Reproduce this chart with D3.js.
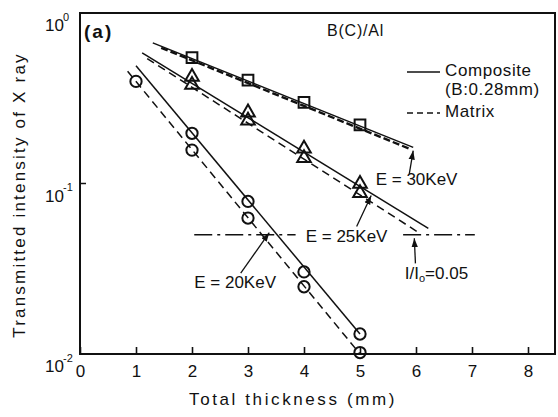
<!DOCTYPE html>
<html>
<head>
<meta charset="utf-8">
<script src="https://cdn.jsdelivr.net/npm/d3@7/dist/d3.min.js"></script>
<style>
  body { margin: 0; background: #fff; }
  svg text { font-family: "Liberation Sans", Arial, sans-serif; fill: #111; }
</style>
</head>
<body>
<div id="chart"></div>
<script>
const xTicks = [0, 1, 2, 3, 4, 5, 6, 7, 8]
const yTicks = [1, 0.1, 0.01]
const yTickExp = ['0', '-1', '-2']

const circleCompX = [2, 3, 4, 5]
const circleComp = [0.197, 0.0785, 0.0303, 0.0131]
const circleMatX = [1, 2, 3, 4, 5]
const circleMat = [0.397, 0.157, 0.0627, 0.0248, 0.0102]

const triX = [2, 3, 4, 5]
const triComp = [0.422, 0.261, 0.160, 0.0996]
const triMat = [0.379, 0.234, 0.141, 0.0878]

const squareX = [2, 3, 4, 5]
const squareVals = [0.548, 0.404, 0.299, 0.221]

// fitted lines [x, I/I0]
const fit20Comp = [[1.0, 0.49], [5.0, 0.0131]]
const fit20Mat = [[0.85, 0.455], [5.0, 0.0100]]
const fit25Comp = [[1.11, 0.583], [6.22, 0.0546]]
const fit25Mat = [[1.2, 0.54], [6.07, 0.051]]
const fit30Comp = [[1.3, 0.668], [5.95, 0.163]]
const fit30Mat = [[1.45, 0.625], [5.9, 0.159]]
// I/I0 = 0.05 level, broken where the 25 keV label sits
const limitLines = [[[2.04, 0.05], [3.85, 0.05]], [[5.77, 0.05], [7.05, 0.05]]]

// annotations: label anchor and arrow [tail, tip]
const notes = [
  { text: 'E = 20KeV', at: [2.04, 0.026], arrow: [[2.87, 0.0298], [3.38, 0.0515]] },
  { text: 'E = 25KeV', at: [4.03, 0.0483], arrow: [[4.94, 0.056], [5.2, 0.085]] },
  { text: 'E = 30KeV', at: [5.28, 0.104], arrow: [[5.88, 0.114], [5.95, 0.156]] }
]
const ratioNote = { at: [5.8, 0.029], arrow: [[5.99, 0.034], [5.97, 0.0478]] }

const width = 558
const height = 417
const margin = { top: 13, right: 2, bottom: 63, left: 80 }

const xScale = d3.scaleLinear()
  .domain([0, 8.5])
  .range([margin.left, width - margin.right])

const yScale = d3.scaleLog()
  .domain([0.01, 1])
  .range([height - margin.bottom, margin.top])

const svg = d3.select('#chart')
  .append('svg')
  .attr('width', width)
  .attr('height', height)

svg.append('defs').append('marker')
  .attr('id', 'head')
  .attr('viewBox', '0 0 10 10')
  .attr('refX', 10).attr('refY', 5)
  .attr('markerWidth', 9).attr('markerHeight', 9)
  .attr('markerUnits', 'userSpaceOnUse')
  .attr('orient', 'auto')
  .append('path')
  .attr('d', 'M0,1.5L10,5L0,8.5Z')
  .attr('fill', '#111')

// frame
svg.append('rect')
  .attr('x', xScale(0)).attr('y', yScale(1))
  .attr('width', xScale(8.5) - xScale(0) - 1)
  .attr('height', yScale(0.01) - yScale(1))
  .attr('fill', 'none').attr('stroke', '#111').attr('stroke-width', 2)

// x ticks inward
svg.append('g')
  .attr('transform', `translate(0, ${yScale(0.01)})`)
  .call(d3.axisBottom(xScale).tickValues(xTicks).tickSize(-7).tickPadding(14).tickFormat(d3.format('d')))
  .call(g => g.select('.domain').remove())
  .call(g => g.selectAll('line').attr('stroke', '#111').attr('stroke-width', 1.6))
  .call(g => g.selectAll('text').attr('font-size', 17).attr('dy', '0.5em'))

// y labels 10^n
const yl = svg.append('g')
yTicks.forEach((v, i) => {
  yl.append('text')
    .attr('x', 64).attr('y', yScale(v) + 14)
    .attr('text-anchor', 'end')
    .attr('dominant-baseline', 'middle')
    .attr('font-size', 17)
    .text('10')
  yl.append('text')
    .attr('x', 63).attr('y', yScale(v) + 5)
    .attr('font-size', 11)
    .attr('dominant-baseline', 'middle')
    .text(yTickExp[i])
})
svg.append('line')
  .attr('x1', xScale(0)).attr('x2', xScale(0) + 6)
  .attr('y1', yScale(0.1)).attr('y2', yScale(0.1))
  .attr('stroke', '#111').attr('stroke-width', 1.5)

// axis titles
svg.append('text')
  .attr('x', 293).attr('y', 405)
  .attr('text-anchor', 'middle')
  .attr('font-size', 17)
  .attr('letter-spacing', 2.6)
  .text('Total thickness (mm)')

svg.append('text')
  .attr('transform', 'translate(21, 195) rotate(-90)')
  .attr('text-anchor', 'middle')
  .attr('dominant-baseline', 'middle')
  .attr('font-size', 17)
  .attr('letter-spacing', 2.2)
  .text('Transmitted intensity of X ray')

const line = d3.line()
  .x(d => xScale(d[0]))
  .y(d => yScale(d[1]))

const fits = [
  { d: fit20Comp, dash: null },
  { d: fit20Mat, dash: '8,5' },
  { d: fit25Comp, dash: null },
  { d: fit25Mat, dash: '8,5' },
  { d: fit30Mat, dash: '7,3', w: 2.4 },
  { d: fit30Comp, dash: null }
]
svg.selectAll('.fit')
  .data(fits)
  .enter().append('path')
  .attr('class', 'fit')
  .attr('d', f => line(f.d))
  .attr('fill', 'none')
  .attr('stroke', '#111')
  .attr('stroke-width', f => f.w || 1.5)
  .attr('stroke-dasharray', f => f.dash)

svg.selectAll('.limit')
  .data(limitLines)
  .enter().append('path')
  .attr('class', 'limit')
  .attr('d', line)
  .attr('fill', 'none')
  .attr('stroke', '#111')
  .attr('stroke-width', 1.5)
  .attr('stroke-dasharray', '18,5,3,5')

// markers
const drawMarks = (xs, ys, type, size) => {
  svg.append('g').selectAll('path')
    .data(d3.zip(xs, ys))
    .enter().append('path')
    .attr('transform', d => `translate(${xScale(d[0])}, ${yScale(d[1])})`)
    .attr('d', d3.symbol(type, size))
    .attr('fill', 'none')
    .attr('stroke', '#111')
    .attr('stroke-width', 2)
}
drawMarks(circleCompX, circleComp, d3.symbolCircle, 100)
drawMarks(circleMatX, circleMat, d3.symbolCircle, 100)
drawMarks(triX, triComp, d3.symbolTriangle, 80)
drawMarks(triX, triMat, d3.symbolTriangle, 80)
drawMarks(squareX, squareVals, d3.symbolSquare, 115)

// annotations
notes.forEach(n => {
  svg.append('text')
    .attr('x', xScale(n.at[0])).attr('y', yScale(n.at[1]))
    .attr('dominant-baseline', 'middle')
    .attr('font-size', 17)
    .attr('xml:space', 'preserve')
    .text(n.text)
  svg.append('path')
    .attr('d', line(n.arrow))
    .attr('stroke', '#111').attr('stroke-width', 1.3)
    .attr('marker-end', 'url(#head)')
})

const rt = svg.append('text')
  .attr('x', xScale(ratioNote.at[0])).attr('y', yScale(ratioNote.at[1]))
  .attr('dominant-baseline', 'middle')
  .attr('font-size', 17)
rt.append('tspan').text('I/I')
rt.append('tspan').attr('font-size', 11).attr('dy', 4).text('o')
rt.append('tspan').attr('dy', -4).text('=0.05')
svg.append('path')
  .attr('d', line(ratioNote.arrow))
  .attr('stroke', '#111').attr('stroke-width', 1.3)
  .attr('marker-end', 'url(#head)')

// panel label and title
svg.append('text')
  .attr('x', 84).attr('y', 33)
  .attr('dominant-baseline', 'middle')
  .attr('font-size', 19).attr('font-weight', 'bold')
  .attr('letter-spacing', 2)
  .text('(a)')

svg.append('text')
  .attr('x', 327).attr('y', 32)
  .attr('dominant-baseline', 'middle')
  .attr('font-size', 16)
  .attr('letter-spacing', 0.8)
  .text('B(C)/Al')

// legend
const legend = [
  { y: 72, dash: null, lines: ['Composite', '(B:0.28mm)'] },
  { y: 113, dash: '6,4', lines: ['Matrix'] }
]
legend.forEach(l => {
  svg.append('line')
    .attr('x1', 407).attr('x2', 440)
    .attr('y1', l.y).attr('y2', l.y)
    .attr('stroke', '#111').attr('stroke-width', 1.6)
    .attr('stroke-dasharray', l.dash)
  l.lines.forEach((s, i) => {
    svg.append('text')
      .attr('x', 445).attr('y', l.y + i * 19)
      .attr('dominant-baseline', 'middle')
      .attr('font-size', 17)
      .attr('letter-spacing', 0.6)
      .text(s)
  })
})
</script>
</body>
</html>
